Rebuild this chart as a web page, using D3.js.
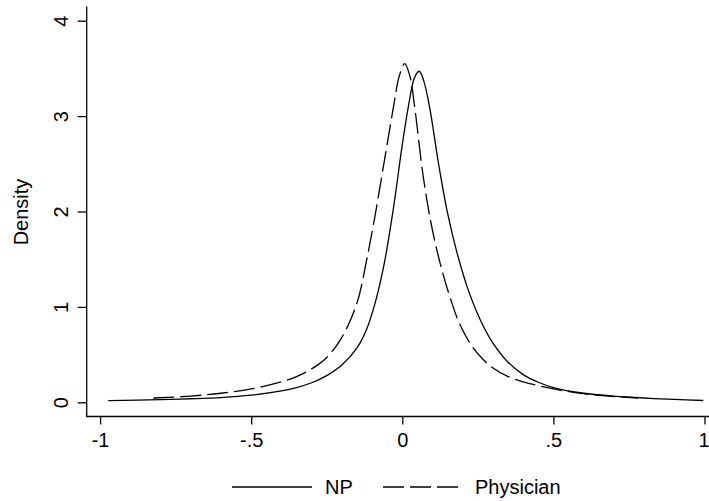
<!DOCTYPE html>
<html>
<head>
<meta charset="utf-8">
<script src="https://cdn.jsdelivr.net/npm/d3@7"></script>
<style>
  html, body { margin: 0; padding: 0; background: #fff; }
  svg { display: block; }
  text { font-family: "Liberation Sans", Arial, Helvetica, sans-serif; fill: #000; }
</style>
</head>
<body>
<svg id="chart" width="709" height="501"></svg>
<script>
// Kernel density estimates: NP
const npX = [-0.973, -0.8, -0.7, -0.6, -0.5, -0.4, -0.35, -0.3, -0.25, -0.2, -0.15, -0.12, -0.09, -0.06, -0.03, 0, 0.02, 0.04, 0.056, 0.07, 0.09, 0.12, 0.15, 0.18, 0.22, 0.26, 0.3, 0.35, 0.4, 0.45, 0.5, 0.6, 0.7, 0.8, 0.9, 0.996];
const npY = [0.017, 0.028, 0.037, 0.05, 0.075, 0.12, 0.155, 0.205, 0.28, 0.39, 0.57, 0.75, 1.04, 1.45, 2.02, 2.70, 3.10, 3.40, 3.47, 3.38, 3.10, 2.50, 1.98, 1.58, 1.16, 0.85, 0.62, 0.42, 0.29, 0.21, 0.155, 0.095, 0.065, 0.045, 0.03, 0.019];

// Kernel density estimates: Physician
const phX = [-0.824, -0.7, -0.6, -0.5, -0.4, -0.35, -0.3, -0.25, -0.2, -0.15, -0.12, -0.09, -0.06, -0.03, -0.01, 0.008, 0.025, 0.04, 0.07, 0.1, 0.13, 0.16, 0.19, 0.23, 0.27, 0.3, 0.35, 0.4, 0.5, 0.6, 0.7, 0.78];
const phY = [0.045, 0.065, 0.095, 0.14, 0.215, 0.27, 0.35, 0.47, 0.68, 1.04, 1.46, 1.96, 2.52, 3.08, 3.42, 3.55, 3.42, 3.12, 2.35, 1.80, 1.40, 1.08, 0.82, 0.59, 0.44, 0.36, 0.27, 0.215, 0.14, 0.09, 0.06, 0.045];

const xTicks = [-1, -0.5, 0, 0.5, 1];
const xTickLabels = ["-1", "-.5", "0", ".5", "1"];
const yTicks = [0, 1, 2, 3, 4];
const seriesNames = ["NP", "Physician"];
const yTitle = "Density";

const W = 709;
const svg = d3.select("#chart");
const fontSize = 20;
const dash = "21,6";

const x = d3.scaleLinear().domain([-1, 1]).range([100.1, 704.5]);
const y = d3.scaleLinear().domain([0, 4]).range([402.3, 20.7]);

const axisX0 = 86.7;   // y-axis position
const axisY0 = 416.5;  // x-axis position

// axis lines
svg.append("line")
  .attr("x1", axisX0).attr("x2", axisX0)
  .attr("y1", 6.5).attr("y2", axisY0 + 0.5)
  .attr("stroke", "#000").attr("stroke-width", 1.3);
svg.append("line")
  .attr("x1", axisX0 - 0.6).attr("x2", W)
  .attr("y1", axisY0).attr("y2", axisY0)
  .attr("stroke", "#000").attr("stroke-width", 1.3);

// y axis ticks and labels
const yAxis = d3.axisLeft(y).tickValues(yTicks).tickSize(9).tickPadding(0).tickFormat(d3.format("d"));
const gy = svg.append("g").attr("transform", `translate(${axisX0},0)`).call(yAxis);
gy.select(".domain").remove();
gy.selectAll(".tick line").attr("stroke", "#000").attr("stroke-width", 1.3);
gy.selectAll(".tick text")
  .attr("x", 0).attr("dy", null)
  .attr("transform", `translate(${68.3 - axisX0},0) rotate(-90)`)
  .attr("text-anchor", "middle")
  .style("font-size", fontSize + "px");

// x axis ticks and labels
const xAxis = d3.axisBottom(x).tickValues(xTicks).tickSize(8).tickFormat((d, i) => xTickLabels[i]);
const gx = svg.append("g").attr("transform", `translate(0,${axisY0})`).call(xAxis);
gx.select(".domain").remove();
gx.selectAll(".tick line").attr("stroke", "#000").attr("stroke-width", 1.3);
gx.selectAll(".tick text")
  .attr("y", 30.5).attr("dy", null)
  .style("font-size", fontSize + "px");

// keep the rightmost tick label inside the canvas
gx.selectAll(".tick").each(function (d) {
  const t = d3.select(this).select("text");
  const right = x(d) + t.node().getBBox().width / 2;
  if (right > W) t.attr("x", W - right);
});

// y axis title
svg.append("text")
  .attr("transform", "translate(28,212) rotate(-90)")
  .attr("text-anchor", "middle")
  .style("font-size", fontSize + "px")
  .text(yTitle);

// density curves
const line = d3.line()
  .x(d => x(d[0]))
  .y(d => y(d[1]))
  .curve(d3.curveCatmullRom.alpha(0.5));

const series = [
  { name: seriesNames[0], pts: d3.zip(npX, npY), dash: null },
  { name: seriesNames[1], pts: d3.zip(phX, phY), dash: dash }
];

svg.append("g").selectAll("path")
  .data(series)
  .join("path")
  .attr("d", d => line(d.pts))
  .attr("fill", "none")
  .attr("stroke", "#000")
  .attr("stroke-width", 1.3)
  .attr("stroke-dasharray", d => d.dash);

// legend
const legendY = 487;
const legendItems = [
  { x0: 232, x1: 312, tx: 325 },
  { x0: 383, x1: 458, tx: 475 }
];
const lg = svg.append("g");
series.forEach((s, i) => {
  const p = legendItems[i];
  lg.append("line")
    .attr("x1", p.x0).attr("x2", p.x1)
    .attr("y1", legendY).attr("y2", legendY)
    .attr("stroke", "#000").attr("stroke-width", 1.3)
    .attr("stroke-dasharray", s.dash);
  lg.append("text")
    .attr("x", p.tx).attr("y", legendY + 7)
    .style("font-size", fontSize + "px")
    .text(s.name);
});
</script>
</body>
</html>
